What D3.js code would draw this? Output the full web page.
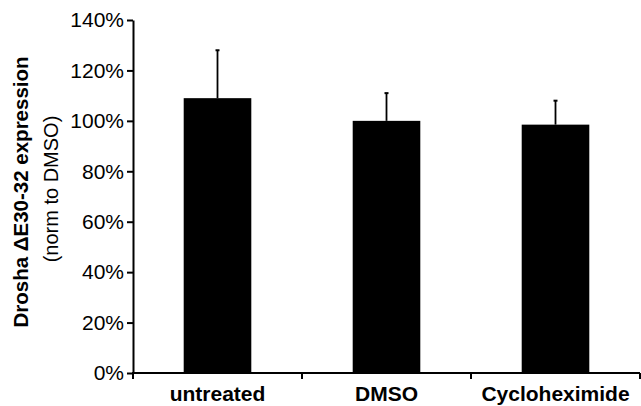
<!DOCTYPE html>
<html>
<head>
<meta charset="utf-8">
<script src="https://cdn.jsdelivr.net/npm/d3@7"></script>
<style>
  body { margin: 0; background: #fff; }
  svg text { font-family: "Liberation Sans", Arial, sans-serif; fill: #000; }
</style>
</head>
<body>
<div id="chart"></div>
<script>
// data
const categories = ["untreated", "DMSO", "Cycloheximide"]
const means = [109, 100, 98.5]
const errTops = [128, 111, 108]
const yTicks = [0, 20, 40, 60, 80, 100, 120, 140]

const width = 641, height = 406
const margin = {top: 20, right: 1, bottom: 33, left: 133}

const svg = d3.select("#chart").append("svg")
    .attr("width", width)
    .attr("height", height)

const x = d3.scaleBand()
    .domain(categories)
    .range([margin.left, width - margin.right])
    .paddingInner(0.6)
    .paddingOuter(0.3)

const y = d3.scaleLinear()
    .domain([0, 140])
    .range([height - margin.bottom, margin.top])

// bars
svg.selectAll(".bar")
    .data(categories)
    .join("rect")
    .attr("class", "bar")
    .attr("x", d => x(d))
    .attr("y", (d, i) => y(means[i]))
    .attr("width", x.bandwidth())
    .attr("height", (d, i) => y(0) - y(means[i]))
    .attr("fill", "#000")

// error bars (upper only)
const cx = d => x(d) + x.bandwidth() / 2
svg.selectAll(".err")
    .data(categories)
    .join("line")
    .attr("x1", cx).attr("x2", cx)
    .attr("y1", (d, i) => y(means[i]))
    .attr("y2", (d, i) => y(errTops[i]))
    .attr("stroke", "#000")
    .attr("stroke-width", 1.8)
svg.selectAll(".cap")
    .data(categories)
    .join("line")
    .attr("x1", d => cx(d) - 2).attr("x2", d => cx(d) + 2)
    .attr("y1", (d, i) => y(errTops[i]))
    .attr("y2", (d, i) => y(errTops[i]))
    .attr("stroke", "#000")
    .attr("stroke-width", 2)

// y axis
const yAxis = svg.append("g")
    .attr("transform", `translate(${margin.left},0)`)
    .call(d3.axisLeft(y).tickValues(yTicks).tickFormat(d => d + "%").tickSize(6).tickSizeOuter(0).tickPadding(3))
yAxis.selectAll("path, line").attr("stroke-width", 2)
yAxis.selectAll("text").style("font-size", "21px")

// x axis line + boundary ticks
svg.append("line")
    .attr("x1", margin.left - 1).attr("x2", width - margin.right)
    .attr("y1", y(0)).attr("y2", y(0))
    .attr("stroke", "#000").attr("stroke-width", 2)
const bounds = [x(categories[0]) + x.bandwidth() / 2 - x.step() / 2]
    .concat(categories.map(d => x(d) + x.bandwidth() / 2 + x.step() / 2))
svg.selectAll(".xtick")
    .data(bounds)
    .join("line")
    .attr("x1", d => d).attr("x2", d => d)
    .attr("y1", y(0)).attr("y2", y(0) + 6)
    .attr("stroke", "#000").attr("stroke-width", 2)
svg.selectAll(".xlab")
    .data(categories)
    .join("text")
    .attr("x", cx)
    .attr("y", y(0) + 28)
    .attr("text-anchor", "middle")
    .style("font-size", "21px")
    .style("font-weight", "bold")
    .text(d => d)

// y titles
svg.append("text")
    .attr("transform", "translate(28,192) rotate(-90)")
    .attr("text-anchor", "middle")
    .style("font-size", "20.5px")
    .style("font-weight", "bold")
    .text("Drosha \u0394E30-32 expression")
svg.append("text")
    .attr("transform", "translate(58,189) rotate(-90)")
    .attr("text-anchor", "middle")
    .style("font-size", "20px")
    .text("(norm to DMSO)")
</script>
</body>
</html>
